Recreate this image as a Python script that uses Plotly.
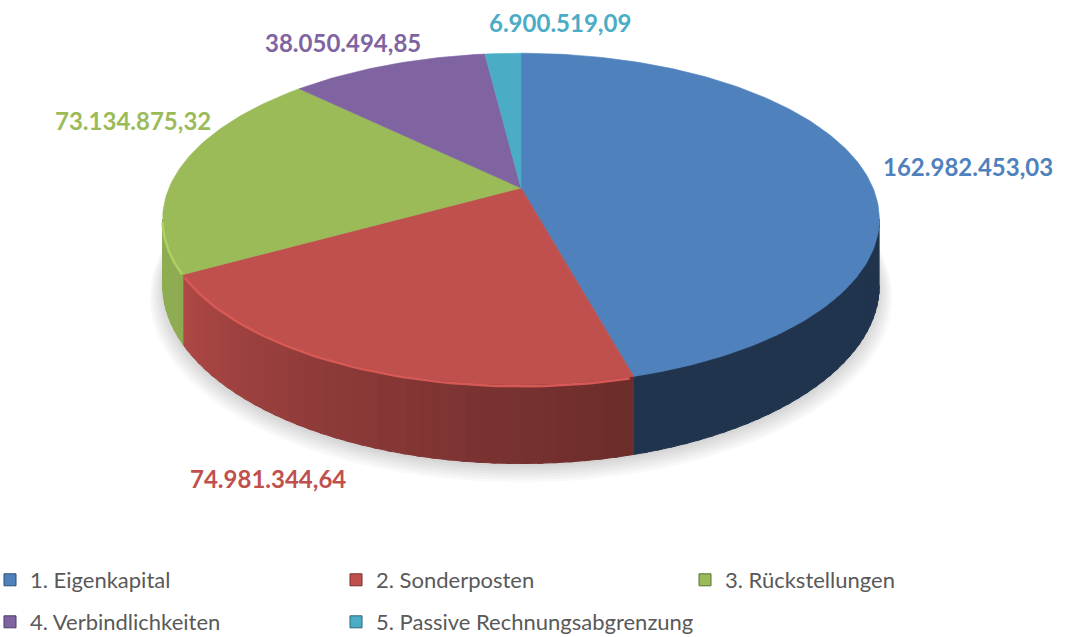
import numpy as np
import plotly.graph_objects as go

# ---------------- data ----------------
categories = [
    "1. Eigenkapital",
    "2. Sonderposten",
    "3. Rückstellungen",
    "4. Verbindlichkeiten",
    "5. Passive Rechnungsabgrenzung",
]
values = [162982453.03, 74981344.64, 73134875.32, 38050494.85, 6900519.09]
colors = ["#4F81BD", "#C0504D", "#9BBB59", "#8064A2", "#4BACC6"]


def de_format(v):
    s = f"{v:,.2f}"
    return s.replace(",", "X").replace(".", ",").replace("X", ".")


value_labels = [de_format(v) for v in values]
label_pos = [(968, 166), (268, 478), (133, 120), (343, 42), (560, 22)]

# legend layout: (text-start x px, row centre y px)
legend_slots = [(30, 580), (376, 580), (725, 580), (30, 622), (376, 622)]

# ---------------- geometry (3D pie look) ----------------
W, H = 1069, 637
CX, CY, A, B, K, DEPTH = 521, 188, 352, 160, 0.187, 64


def top_pt(theta):
    u, v = np.sin(theta), np.cos(theta)
    s = 1.0 / (1.0 + K * v)
    return CX + A * u * s, CY - B * v * s


def bot_pt(theta):
    u, v = np.sin(theta), np.cos(theta)
    s = 1.0 / (1.0 + K * v)
    return CX + A * u * s, CY - B * v * s + DEPTH * s


def hex_rgb(h):
    h = h.lstrip("#")
    return tuple(int(h[i:i + 2], 16) for i in (0, 2, 4))


def shade(h, f):
    r, g, b = hex_rgb(h)
    return f"rgb({min(255, int(r * f))},{min(255, int(g * f))},{min(255, int(b * f))})"


fig = go.Figure()

total = float(np.sum(values))
fracs = np.array(values) / total
cum = np.concatenate([[0], np.cumsum(fracs)]) * 2 * np.pi

# soft shadow
full = np.linspace(0, 2 * np.pi, 240)
for i in range(7):
    sc = 1.0 + 0.006 * i
    bx, by = bot_pt(full)
    bx = CX + (bx - CX) * sc
    by = CY + (by - CY) * sc + 3 + i
    fig.add_trace(go.Scatter(x=bx, y=by, fill="toself", mode="lines",
                             line=dict(width=0), fillcolor="rgba(0,0,0,0.022)",
                             hoverinfo="skip", showlegend=False))

# front rim
th_r = np.arccos(-K)
th_l = 2 * np.pi - th_r
for i, c in enumerate(colors):
    a, b = max(cum[i], th_r), min(cum[i + 1], th_l)
    if b <= a:
        continue
    n = max(2, int(np.degrees(b - a) / 2))
    edges = np.linspace(a, b, n + 1)
    for j in range(n):
        t = np.linspace(edges[j], min(b, edges[j + 1] + 0.012), 6)
        mid = 0.5 * (edges[j] + edges[j + 1])
        p = np.clip((np.degrees(mid) - 100) / 160, 0, 1)
        f = min(0.92, 0.40 + 0.62 * p ** 1.5)
        if i == 0:
            f = min(f, 0.41)
        tx, ty = top_pt(t)
        bx, by = bot_pt(t[::-1])
        col = shade(c, f)
        fig.add_trace(go.Scatter(x=np.concatenate([tx, bx]), y=np.concatenate([ty, by]),
                                 fill="toself", mode="lines", line=dict(width=1, color=col),
                                 fillcolor=col, hoverinfo="skip", showlegend=False))

# top faces
for i, c in enumerate(colors):
    t = np.linspace(cum[i], cum[i + 1], max(4, int(np.degrees(cum[i + 1] - cum[i]))))
    tx, ty = top_pt(t)
    xs = np.concatenate([[CX], tx, [CX]])
    ys = np.concatenate([[CY], ty, [CY]])
    fig.add_trace(go.Scatter(x=xs, y=ys, fill="toself", mode="lines",
                             line=dict(width=0.6, color=c), fillcolor=c,
                             hoverinfo="skip", showlegend=False))

# bevel highlight along front top edge of the lighter slices
for i, c in enumerate(colors):
    if i not in (1, 2):
        continue
    a, b = max(cum[i], th_r), min(cum[i + 1], th_l)
    if b <= a:
        continue
    t = np.linspace(a + 0.01, b - 0.01, 60)
    tx, ty = top_pt(t)
    fig.add_trace(go.Scatter(x=tx, y=ty + 1.5, mode="lines",
                             line=dict(width=2.5, color=shade(c, 1.12)),
                             hoverinfo="skip", showlegend=False))

# legend entries (one legend per slot)
legend_layout = {}
for k, (name, c, (tx0, ly)) in enumerate(zip(categories, colors, legend_slots)):
    lname = "legend" if k == 0 else f"legend{k + 1}"
    fig.add_trace(go.Scatter(x=[None], y=[None], mode="markers", name=name, legend=lname,
                             marker=dict(symbol="square", size=12, color=c,
                                         line=dict(width=1, color=shade(c, 0.6)))))
    legend_layout[lname] = dict(
        orientation="v", xanchor="left", yanchor="middle",
        x=(tx0 - 40) / W, y=1 - ly / H,
        itemwidth=30,
        font=dict(family="Lato", size=22, color="#595959"),
        bgcolor="rgba(0,0,0,0)",
    )

# value labels
for txt, c, (lx, ly) in zip(value_labels, colors, label_pos):
    fig.add_annotation(x=lx, y=ly, text=f"<b>{txt}</b>", showarrow=False,
                       font=dict(family="Lato", size=24, color=c),
                       xanchor="center", yanchor="middle")

fig.update_layout(
    width=W, height=H,
    margin=dict(l=0, r=0, t=0, b=0, autoexpand=False),
    paper_bgcolor="white", plot_bgcolor="white",
    xaxis=dict(range=[0, W], visible=False, fixedrange=True),
    yaxis=dict(range=[H, 0], visible=False, fixedrange=True),
    **legend_layout,
)

fig.write_html("out.html")
